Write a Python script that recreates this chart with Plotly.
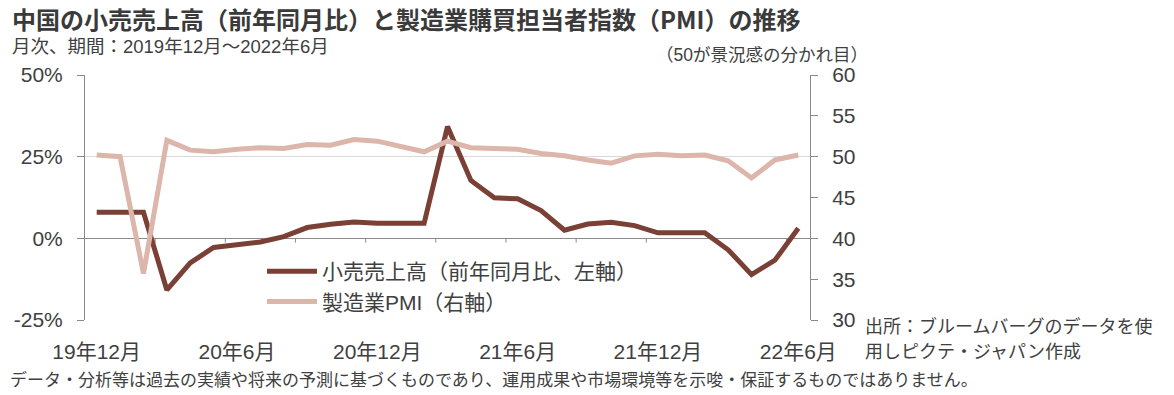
import plotly.graph_objects as go

months = list(range(31))
tick_idx = [0, 6, 12, 18, 24, 30]
tick_labels = ["19年12月", "20年6月", "20年12月", "21年6月", "21年12月", "22年6月"]
retail = [8.0, 8.0, 8.0, -15.8, -7.5, -2.8, -1.8, -1.1, 0.5, 3.3, 4.3, 5.0, 4.6,
          4.6, 4.6, 34.2, 17.7, 12.4, 12.1, 8.5, 2.5, 4.4, 4.9, 3.9, 1.7,
          1.7, 1.7, -3.5, -11.1, -6.7, 3.1]
pmi = [50.2, 50.0, 35.7, 52.0, 50.8, 50.6, 50.9, 51.1, 51.0, 51.5, 51.4, 52.1, 51.9,
       51.3, 50.6, 51.9, 51.1, 51.0, 50.9, 50.4, 50.1, 49.6, 49.2, 50.1, 50.3,
       50.1, 50.2, 49.5, 47.4, 49.6, 50.2]
left_ticks = [-25, 0, 25, 50]
left_labels = ["-25%", "0%", "25%", "50%"]
right_ticks = [30, 35, 40, 45, 50, 55, 60]
minor_tick_pos = [2.5, 5.5, 8.5, 11.5, 14.5, 17.5, 20.5, 23.5, 26.5, 29.5]

DARK = "#7a4036"
LIGHT = "#dcb5ab"
TXT = "#404040"
NUM_FONT = "Liberation Sans, Noto Sans CJK JP, sans-serif"
JP_FONT = "Noto Sans CJK JP, sans-serif"
MIX_FONT = "Liberation Sans, Noto Sans CJK JP, sans-serif"

W, H = 1174, 395
L, R, T, B = 85, 810, 75, 320
PW, PH = R - L, B - T


def px(x):
    return (x - L) / PW


def py(y):
    return (B - y) / PH


fig = go.Figure()
fig.add_trace(go.Scatter(x=months, y=retail, mode="lines", name="小売売上高（前年同月比、左軸）",
                         line=dict(color=DARK, width=5), yaxis="y", legendrank=1))
fig.add_trace(go.Scatter(x=months, y=pmi, mode="lines", name="製造業PMI（右軸）",
                         line=dict(color=LIGHT, width=5), yaxis="y2", legendrank=2))

shapes = []
for p in minor_tick_pos:
    shapes.append(dict(type="line", xref="x", yref="y", x0=p, x1=p, y0=0, y1=-1.3,
                       line=dict(color="#8a8a8a", width=1), layer="below"))

fig.update_layout(
    width=W, height=H,
    margin=dict(l=L, r=W - R, t=T, b=H - B),
    paper_bgcolor="white", plot_bgcolor="white",
    font=dict(family=JP_FONT, color=TXT),
    showlegend=True,
    legend=dict(x=px(262), y=py(251), xanchor="left", yanchor="top",
                bgcolor="rgba(0,0,0,0)", font=dict(size=21, family=MIX_FONT, color=TXT),
                itemwidth=50, tracegroupgap=0),
    xaxis=dict(range=[-0.5, 30.5], tickvals=tick_idx, ticktext=tick_labels,
               showgrid=False, zeroline=False, showline=False, ticks="",
               tickfont=dict(size=21, family=NUM_FONT, color=TXT, weight=400), ticklabelstandoff=17),
    yaxis=dict(range=[-25, 50], tickvals=left_ticks, ticktext=left_labels,
               showgrid=True, gridcolor="#d9d9d9", gridwidth=1,
               zeroline=True, zerolinecolor="#8a8a8a", zerolinewidth=1,
               showline=True, linecolor="#8a8a8a", linewidth=1,
               ticks="outside", ticklen=7, tickcolor="#8a8a8a", ticklabelstandoff=10,
               tickfont=dict(size=21, family=NUM_FONT, color=TXT)),
    yaxis2=dict(range=[30, 60], tickvals=right_ticks, overlaying="y", side="right",
                showgrid=False, zeroline=False,
                showline=True, linecolor="#8a8a8a", linewidth=1,
                ticks="outside", ticklen=7, tickcolor="#8a8a8a", ticklabelstandoff=10,
                tickfont=dict(size=21, family=NUM_FONT, color=TXT)),
    shapes=shapes,
    annotations=[
        dict(text="中国の小売売上高（前年同月比）と製造業購買担当者指数（PMI）の推移",
             xref="paper", yref="paper", x=px(10), y=py(18), xanchor="left", yanchor="middle",
             showarrow=False, font=dict(size=24, family=JP_FONT, color="#3a3a3a", weight=600)),
        dict(text="月次、期間：2019年12月～2022年6月",
             xref="paper", yref="paper", x=px(10), y=py(47), xanchor="left", yanchor="middle",
             showarrow=False, font=dict(size=18.5, family=MIX_FONT, color=TXT)),
        dict(text="（50が景況感の分かれ目）",
             xref="paper", yref="paper", x=px(870), y=py(55), xanchor="right", yanchor="middle",
             showarrow=False, font=dict(size=17.5, family=MIX_FONT, color=TXT)),
        dict(text="出所：ブルームバーグのデータを使",
             xref="paper", yref="paper", x=px(863), y=py(325), xanchor="left", yanchor="middle",
             showarrow=False, font=dict(size=18, family=JP_FONT, color=TXT)),
        dict(text="用しピクテ・ジャパン作成",
             xref="paper", yref="paper", x=px(863), y=py(350), xanchor="left", yanchor="middle",
             showarrow=False, font=dict(size=18, family=JP_FONT, color=TXT)),
        dict(text="データ・分析等は過去の実績や将来の予測に基づくものであり、運用成果や市場環境等を示唆・保証するものではありません。",
             xref="paper", yref="paper", x=px(8), y=py(378), xanchor="left", yanchor="middle",
             showarrow=False, font=dict(size=17, family=JP_FONT, color=TXT)),
    ],
)

fig.write_html("out.html", config={"displayModeBar": False},
               post_script="document.body.style.margin='0';document.body.style.overflow='hidden';")
